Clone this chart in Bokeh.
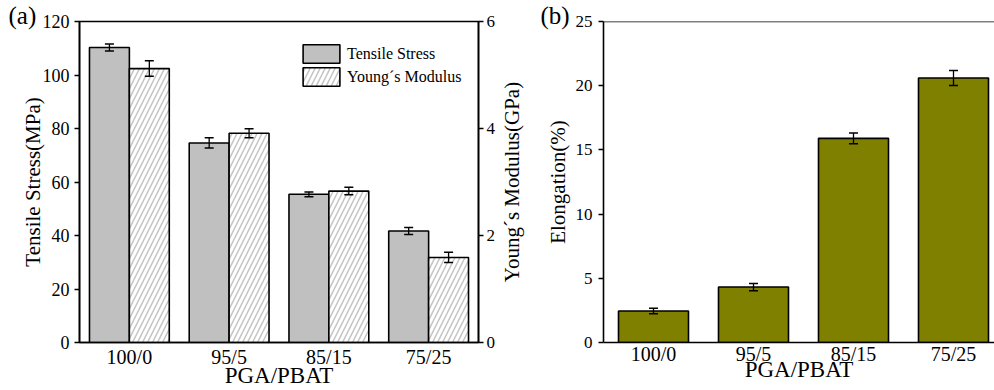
from bokeh.plotting import figure
from bokeh.layouts import row
from bokeh.models import (Range1d, LinearAxis, FixedTicker, Legend, LegendItem,
                          ColumnDataSource, Span)
from bokeh.embed import file_html
from bokeh.resources import INLINE

# ---------------- data ----------------
categories = ["100/0", "95/5", "85/15", "75/25"]
tensile_stress = [110.3, 74.6, 55.4, 41.7]      # MPa
tensile_err = [1.3, 1.9, 0.9, 1.3]
youngs_modulus = [5.12, 3.91, 2.83, 1.59]       # GPa
youngs_err = [0.145, 0.085, 0.07, 0.095]
elongation = [2.45, 4.32, 15.9, 20.6]           # %
elongation_err = [0.22, 0.28, 0.42, 0.58]
stress_ticks = [0, 20, 40, 60, 80, 100, 120]
modulus_ticks = [0, 2, 4, 6]
elong_ticks = [0, 5, 10, 15, 20, 25]

FONT = "Liberation Serif"
BASE_CSS = "text { font-family: 'Liberation Serif', serif !important; }"
CSS_A = BASE_CSS + " text[font-size='25px'] { translate: 0px 7px; } text[font-size='23px'] { translate: -17px 0px; }"
CSS_B = BASE_CSS + " text[font-size='25px'] { translate: 0px 11px; } text[font-size='23px'] { translate: 14px 0px; }"
pos = list(range(1, len(categories) + 1))
overrides = {p: c for p, c in zip(pos, categories)}
LW = 1.6


def style_axis(ax, size="18px", tick_out=5, standoff=5):
    ax.axis_line_color = "black"
    ax.axis_line_width = LW
    ax.major_tick_line_color = "black"
    ax.major_tick_line_width = LW
    ax.major_tick_out = tick_out
    ax.major_tick_in = 0
    ax.minor_tick_line_color = None
    ax.major_label_text_font = FONT
    ax.major_label_text_font_style = "normal"
    ax.major_label_text_font_size = size
    ax.major_label_text_color = "black"
    ax.major_label_standoff = standoff
    ax.axis_label_text_font = FONT
    ax.axis_label_text_font_style = "normal"
    ax.axis_label_text_color = "black"


def style_title(p, text, offset):
    p.title.text = text
    p.title.text_font = FONT
    p.title.text_font_size = "25px"
    p.title.text_font_style = "normal"
    p.title.text_color = "black"
    p.title.align = "left"
    p.title.offset = offset
    p.title.standoff = -14


# ---------------- panel (a) ----------------
src_a = ColumnDataSource(dict(
    x_ts=[p - 0.2 for p in pos],
    x_ym=[p + 0.2 for p in pos],
    ts=tensile_stress,
    ts_lo=[v - e for v, e in zip(tensile_stress, tensile_err)],
    ts_hi=[v + e for v, e in zip(tensile_stress, tensile_err)],
    ym=youngs_modulus,
    ym_lo=[v - e for v, e in zip(youngs_modulus, youngs_err)],
    ym_hi=[v + e for v, e in zip(youngs_modulus, youngs_err)],
))

pa = figure(width=498, height=390, x_range=Range1d(0.5, 4.5), y_range=Range1d(0, 120),
            output_backend="svg", toolbar_location=None, stylesheets=[CSS_A],
            min_border_left=79, min_border_right=19, min_border_top=21, min_border_bottom=48)
pa.extra_y_ranges = {"gpa": Range1d(0, 6)}
pa.xgrid.visible = False
pa.ygrid.visible = False
pa.outline_line_color = "black"
pa.outline_line_width = LW
pa.background_fill_color = "white"
style_title(pa, "(a)", -71)

r1 = pa.vbar(x="x_ts", top="ts", width=0.4, bottom=0, source=src_a,
             fill_color="#c0c0c0", line_color="black", line_width=LW)
r2 = pa.vbar(x="x_ym", top="ym", width=0.4, bottom=0, source=src_a, y_range_name="gpa",
             fill_color="white", line_color="black", line_width=LW,
             hatch_pattern="/", hatch_color="#c4c4c4", hatch_weight=1.5, hatch_scale=10)

pa.segment(x0="x_ts", x1="x_ts", y0="ts_lo", y1="ts_hi", source=src_a, line_color="black", line_width=1.3)
pa.scatter(x="x_ts", y="ts_lo", source=src_a, marker="dash", size=9, line_color="black", line_width=1.5)
pa.scatter(x="x_ts", y="ts_hi", source=src_a, marker="dash", size=9, line_color="black", line_width=1.5)
pa.segment(x0="x_ym", x1="x_ym", y0="ym_lo", y1="ym_hi", source=src_a, y_range_name="gpa",
           line_color="black", line_width=1.3)
pa.scatter(x="x_ym", y="ym_lo", source=src_a, y_range_name="gpa", marker="dash", size=9,
           line_color="black", line_width=1.5)
pa.scatter(x="x_ym", y="ym_hi", source=src_a, y_range_name="gpa", marker="dash", size=9,
           line_color="black", line_width=1.5)

ax_l = pa.yaxis[0]
ax_l.ticker = FixedTicker(ticks=stress_ticks)
ax_l.axis_label = "Tensile Stress(MPa)"
style_axis(ax_l, "18px", 5, 5)
ax_l.axis_label_text_font_size = "21px"
ax_l.axis_label_standoff = -5

ax_r = LinearAxis(y_range_name="gpa", ticker=FixedTicker(ticks=modulus_ticks))
style_axis(ax_r, "17px", 5, 3)
pa.add_layout(ax_r, "right")

ax_b = pa.xaxis[0]
ax_b.ticker = FixedTicker(ticks=pos)
ax_b.major_label_overrides = overrides
ax_b.axis_label = "PGA/PBAT"
style_axis(ax_b, "20px", 0, 3)
ax_b.major_tick_line_color = None
ax_b.axis_label_text_font_size = "23px"
ax_b.axis_label_standoff = -8

legend = Legend(items=[LegendItem(label="Tensile Stress", renderers=[r1]),
                       LegendItem(label="Young´s Modulus", renderers=[r2])],
                location=(219, 254), orientation="vertical",
                glyph_width=46, glyph_height=23, label_height=23, label_standoff=3,
                spacing=0, padding=0, margin=0,
                border_line_color=None, background_fill_alpha=0,
                label_text_font=FONT, label_text_font_size="16px", label_text_color="black")
pa.add_layout(legend)

# ------- strip holding the right-hand axis title of panel (a), read bottom-to-top -------
pm = figure(width=37, height=390, x_range=Range1d(0, 1), y_range=Range1d(0, 1),
            output_backend="svg", toolbar_location=None, stylesheets=[BASE_CSS],
            min_border_left=35, min_border_right=0, min_border_top=21, min_border_bottom=48)
pm.xgrid.visible = False
pm.ygrid.visible = False
pm.outline_line_color = None
pm.xaxis.visible = False
pm.background_fill_color = "white"
ax_m = pm.yaxis[0]
ax_m.ticker = FixedTicker(ticks=[])
ax_m.axis_line_color = None
ax_m.major_tick_line_color = None
ax_m.minor_tick_line_color = None
ax_m.axis_label = "Young´s Modulus(GPa)"
ax_m.axis_label_text_font = FONT
ax_m.axis_label_text_font_style = "normal"
ax_m.axis_label_text_font_size = "21px"
ax_m.axis_label_text_color = "black"
ax_m.axis_label_standoff = 12

# ---------------- panel (b) ----------------
src_b = ColumnDataSource(dict(
    x=pos,
    el=elongation,
    el_lo=[v - e for v, e in zip(elongation, elongation_err)],
    el_hi=[v + e for v, e in zip(elongation, elongation_err)],
))

pb = figure(width=459, height=390, x_range=Range1d(0.5, 4.41), y_range=Range1d(0, 25),
            output_backend="svg", toolbar_location=None, stylesheets=[CSS_B],
            min_border_left=68, min_border_right=0, min_border_top=21, min_border_bottom=45)
pb.xgrid.visible = False
pb.ygrid.visible = False
pb.outline_line_color = None
pb.background_fill_color = "white"
style_title(pb, "(b)", -63)

pb.vbar(x="x", top="el", width=0.7, bottom=0, source=src_b,
        fill_color="#7f7f00", line_color="black", line_width=LW)
pb.segment(x0="x", x1="x", y0="el_lo", y1="el_hi", source=src_b, line_color="black", line_width=1.3)
pb.scatter(x="x", y="el_lo", source=src_b, marker="dash", size=9, line_color="black", line_width=1.5)
pb.scatter(x="x", y="el_hi", source=src_b, marker="dash", size=9, line_color="black", line_width=1.5)

pb.add_layout(Span(location=25, dimension="width", line_color="black", line_width=LW))

bl = pb.yaxis[0]
bl.ticker = FixedTicker(ticks=elong_ticks)
bl.axis_label = "Elongation(%)"
style_axis(bl, "17px", 5, 6)
bl.axis_label_text_font_size = "21px"
bl.axis_label_standoff = 3

bb = pb.xaxis[0]
bb.ticker = FixedTicker(ticks=pos)
bb.major_label_overrides = overrides
bb.axis_label = "PGA/PBAT"
style_axis(bb, "20px", 0, 0)
bb.major_tick_line_color = None
bb.axis_label_text_font_size = "23px"
bb.axis_label_standoff = -11

layout = row(pa, pm, pb)
open("out.html", "w").write(file_html(layout, INLINE))
